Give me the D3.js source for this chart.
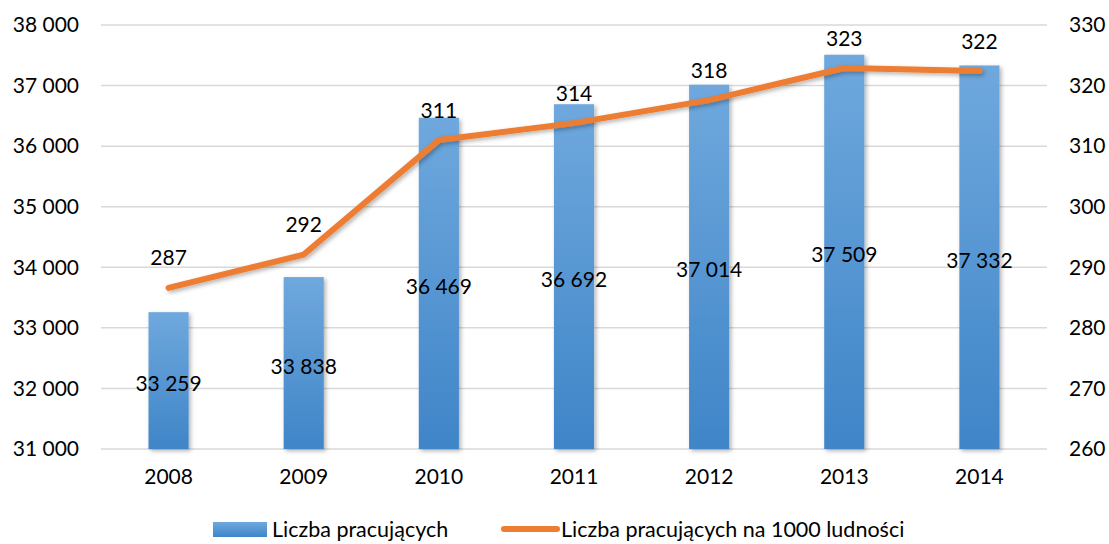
<!DOCTYPE html>
<html>
<head>
<meta charset="utf-8">
<script src="https://cdn.jsdelivr.net/npm/d3@7"></script>
<style>
  body { margin: 0; background: #fff; }
  text { font-family: Lato, "Open Sans", sans-serif; fill: #000; }
</style>
</head>
<body>
<script>
const years = ["2008", "2009", "2010", "2011", "2012", "2013", "2014"];
const workers = [33259, 33838, 36469, 36692, 37014, 37509, 37332];
const perThousand = [286.6, 292.1, 311.0, 313.8, 317.6, 322.9, 322.4];
const leftTicks = [31000, 32000, 33000, 34000, 35000, 36000, 37000, 38000];
const rightTicks = [260, 270, 280, 290, 300, 310, 320, 330];
const seriesNames = ["Liczba pracujących", "Liczba pracujących na 1000 ludności"];

const w = 1109, h = 544;
const svg = d3.select("body").append("svg")
              .attr("width", w)
              .attr("height", h)

const defs = svg.append("defs")
const grad = defs.append("linearGradient")
                 .attr("id", "barGrad")
                 .attr("x1", 0).attr("y1", 0).attr("x2", 0).attr("y2", 1)
      grad.append("stop").attr("offset", "0%").attr("stop-color", "#6fa8dd")
      grad.append("stop").attr("offset", "100%").attr("stop-color", "#3f85c8")
const lgrad = defs.append("linearGradient")
                  .attr("id", "legGrad")
                  .attr("x1", 0).attr("y1", 0).attr("x2", 0).attr("y2", 1)
      lgrad.append("stop").attr("offset", "0%").attr("stop-color", "#6fa8dd")
      lgrad.append("stop").attr("offset", "100%").attr("stop-color", "#3f85c8")

const shadow = defs.append("filter")
                   .attr("id", "shadow")
                   .attr("x", "-20%").attr("y", "-20%")
                   .attr("width", "150%").attr("height", "150%")
      shadow.append("feDropShadow")
            .attr("dx", 2).attr("dy", 2)
            .attr("stdDeviation", 2)
            .attr("flood-color", "#000")
            .attr("flood-opacity", 0.3)

const x = d3.scaleBand()
            .domain(years)
            .range([101, 1047])
            .paddingInner(0.703)
            .paddingOuter(0.3515)

const yL = d3.scaleLinear().domain([31000, 38000]).range([449, 25])
const yR = d3.scaleLinear().domain([260, 330]).range([449, 25])

const fmt = v => d3.format(",")(v).replace(/,/g, " ")

// gridlines
svg.append("g")
   .selectAll("line")
   .data(leftTicks)
   .enter()
   .append("line")
   .attr("x1", 101)
   .attr("x2", 1047)
   .attr("y1", d => yL(d))
   .attr("y2", d => yL(d))
   .attr("stroke", "#d9d9d9")
   .attr("stroke-width", 1.5)

// left axis
const leftAxis = svg.append("g")
                    .attr("transform", "translate(79,0)")
                    .call(d3.axisLeft(yL).tickValues(leftTicks).tickSize(0).tickPadding(0).tickFormat(fmt))
      leftAxis.select(".domain").remove()
      leftAxis.selectAll("text").style("font-size", "21px").attr("fill", "#000")

// right axis
const rightAxis = svg.append("g")
                     .attr("transform", "translate(1069,0)")
                     .call(d3.axisRight(yR).tickValues(rightTicks).tickSize(0).tickPadding(0))
      rightAxis.select(".domain").remove()
      rightAxis.selectAll("text").style("font-size", "21px").attr("fill", "#000")

// bottom axis
const bottomAxis = svg.append("g")
                      .attr("transform", "translate(0,469)")
                      .call(d3.axisBottom(x).tickSize(0).tickPadding(0))
      bottomAxis.select(".domain").remove()
      bottomAxis.selectAll("text").style("font-size", "21px").attr("fill", "#000")

// bars
svg.append("g")
   .selectAll("rect")
   .data(workers)
   .enter()
   .append("rect")
   .attr("x", (d, i) => x(years[i]))
   .attr("y", d => yL(d))
   .attr("width", x.bandwidth())
   .attr("height", d => yL(31000) - yL(d))
   .attr("fill", "url(#barGrad)")
   .attr("filter", "url(#shadow)")

// bar labels
svg.append("g")
   .selectAll("text")
   .data(workers)
   .enter()
   .append("text")
   .attr("x", (d, i) => x(years[i]) + x.bandwidth() / 2)
   .attr("y", d => (yL(d) + yL(31000)) / 2 + 2)
   .attr("text-anchor", "middle")
   .attr("dominant-baseline", "central")
   .style("font-size", "21px")
   .text(d => fmt(d))

// line
const line = d3.line()
               .x((d, i) => x(years[i]) + x.bandwidth() / 2)
               .y(d => yR(d))

svg.append("path")
   .datum(perThousand)
   .attr("d", line)
   .attr("fill", "none")
   .attr("stroke", "#ed7d31")
   .attr("stroke-width", 6)
   .attr("stroke-linecap", "round")
   .attr("stroke-linejoin", "round")
   .attr("filter", "url(#shadow)")

svg.append("g")
   .selectAll("text")
   .data(perThousand)
   .enter()
   .append("text")
   .attr("x", (d, i) => x(years[i]) + x.bandwidth() / 2)
   .attr("y", d => yR(d) - 31)
   .attr("text-anchor", "middle")
   .attr("dominant-baseline", "central")
   .style("font-size", "21px")
   .text(d => Math.round(d))

// legend
const legY = 529;
const legend = svg.append("g")
      legend.append("rect")
            .attr("x", 213)
            .attr("y", legY - 7)
            .attr("width", 54)
            .attr("height", 15)
            .attr("fill", "url(#legGrad)")
      legend.append("text")
            .attr("x", 272)
            .attr("y", legY)
            .attr("dominant-baseline", "central")
            .style("font-size", "21.5px")
            .text(seriesNames[0])
      legend.append("line")
            .attr("x1", 504)
            .attr("x2", 557)
            .attr("y1", legY)
            .attr("y2", legY)
            .attr("stroke", "#ed7d31")
            .attr("stroke-width", 6)
            .attr("stroke-linecap", "round")
      legend.append("text")
            .attr("x", 561)
            .attr("y", legY)
            .attr("dominant-baseline", "central")
            .style("font-size", "21.5px")
            .text(seriesNames[1])
</script>
</body>
</html>
